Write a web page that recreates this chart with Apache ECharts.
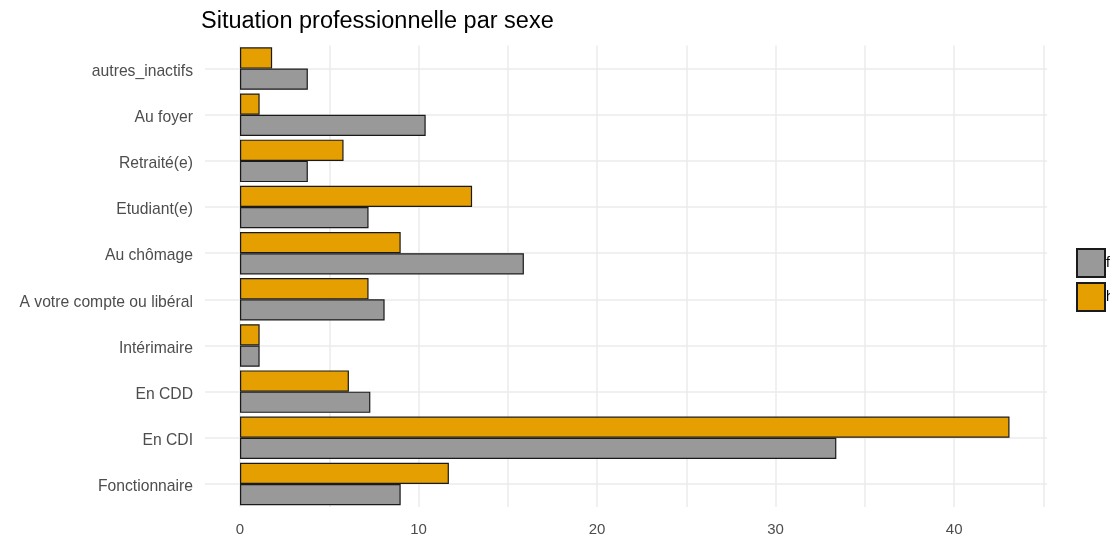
<!DOCTYPE html>
<html>
<head>
<meta charset="utf-8">
<script src="https://cdn.jsdelivr.net/npm/echarts@6/dist/echarts.min.js"></script>
<style>
  html, body { margin: 0; padding: 0; background: #fff; }
  #chart { width: 1110px; height: 537px; }
</style>
</head>
<body>
<div id="chart"></div>
<script>
// categories from bottom to top
const categories = ['Fonctionnaire', 'En CDI', 'En CDD', 'Intérimaire', 'A votre compte ou libéral',
  'Au chômage', 'Etudiant(e)', 'Retraité(e)', 'Au foyer', 'autres_inactifs']
const valuesF = [9.0, 33.4, 7.3, 1.1, 8.1, 15.9, 7.2, 3.8, 10.4, 3.8]
const valuesH = [11.7, 43.1, 6.1, 1.1, 7.2, 9.0, 13.0, 5.8, 1.1, 1.8]
const gridTicks = [0, 5, 10, 15, 20, 25, 30, 35, 40, 45]
const tickLabels = [0, 10, 20, 30, 40]

const chart = echarts.init(document.getElementById('chart'))

const font = 'Liberation Sans, Arial, sans-serif'

chart.setOption({
  animation: false,
  title: {
    text: 'Situation professionnelle par sexe',
    left: 196,
    top: 5,
    textStyle: { fontFamily: font, fontSize: 23.5, fontWeight: 'normal', color: '#000' }
  },
  legend: {
    orient: 'vertical',
    left: 1071,
    top: 243,
    itemWidth: 28,
    itemHeight: 28,
    itemGap: 4,
    icon: 'rect',
    data: ['f', 'h'],
    textStyle: { fontFamily: font, fontSize: 14, color: '#000', padding: [0, 0, 0, -4] }
  },
  grid: {
    left: 205,
    right: 63,
    top: 45.5,
    bottom: 28,
    containLabel: false
  },
  xAxis: {
    type: 'value',
    min: -1.96,
    max: 45.2,
    axisLine: { show: false },
    axisTick: { show: false, customValues: gridTicks },
    axisLabel: {
      customValues: tickLabels,
      color: '#4D4D4D',
      fontFamily: font,
      fontSize: 15,
      margin: 15
    },
    splitLine: {
      show: true,
      customValues: gridTicks,
      lineStyle: { color: '#EBEBEB', width: 1.5 }
    }
  },
  yAxis: {
    type: 'category',
    data: categories,
    axisLine: { show: false },
    axisTick: { show: false, alignWithLabel: true },
    axisLabel: {
      margin: 12,
      formatter: v => '{a|' + v + '}',
      rich: {
        a: {
          color: '#4D4D4D',
          fontFamily: font,
          fontSize: 15.7,
          padding: [6, 0, 0, 0]
        }
      }
    },
    splitLine: {
      show: true,
      alignWithLabel: true,
      lineStyle: { color: '#EBEBEB', width: 1.5 }
    }
  },
  series: [
    {
      name: 'h',
      type: 'bar',
      data: valuesH,
      barCategoryGap: '8%',
      barGap: '0%',
      itemStyle: { color: '#E69F00', borderColor: '#1a1a1a', borderWidth: 1.2 }
    },
    {
      name: 'f',
      type: 'bar',
      data: valuesF,
      barCategoryGap: '8%',
      barGap: '0%',
      itemStyle: { color: '#999999', borderColor: '#1a1a1a', borderWidth: 1.2 }
    }
  ]
})
</script>
</body>
</html>
